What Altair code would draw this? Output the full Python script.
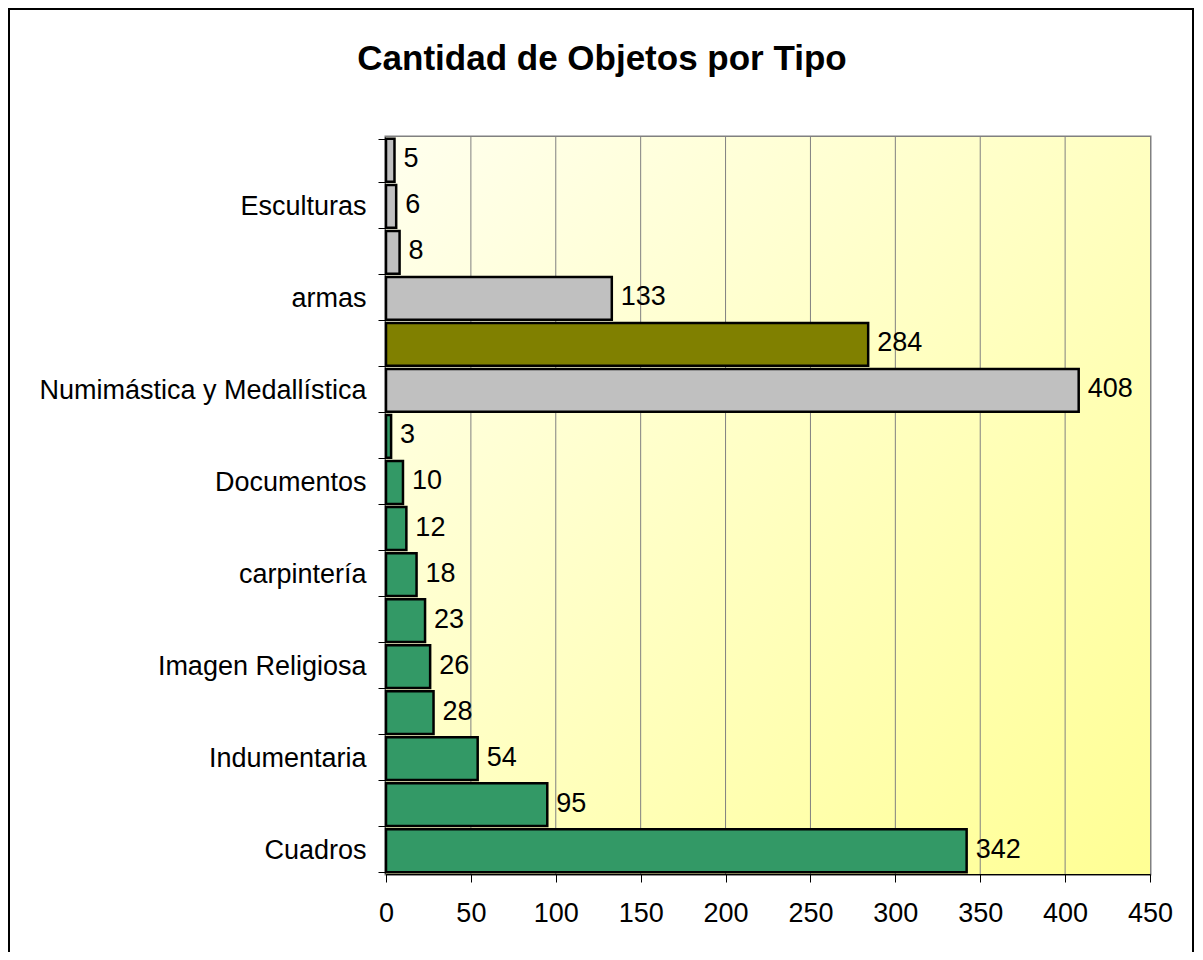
import altair as alt
import pandas as pd

# Categories, top to bottom (Excel shows only every other label)
categorias = [
    "Tipo 16", "Esculturas", "Tipo 14", "armas", "Tipo 12",
    "Numimástica y Medallística", "Tipo 10", "Documentos", "Tipo 8",
    "carpintería", "Tipo 6", "Imagen Religiosa", "Tipo 4",
    "Indumentaria", "Tipo 2", "Cuadros",
]
etiquetas_visibles = [
    "Esculturas", "armas", "Numimástica y Medallística", "Documentos",
    "carpintería", "Imagen Religiosa", "Indumentaria", "Cuadros",
]
cantidades = [5, 6, 8, 133, 284, 408, 3, 10, 12, 18, 23, 26, 28, 54, 95, 342]
grupos = ["B", "B", "B", "B", "C", "B", "A", "A", "A", "A", "A", "A", "A", "A", "A", "A"]
ticks_x = [0, 50, 100, 150, 200, 250, 300, 350, 400, 450]
titulo = "Cantidad de Objetos por Tipo"

paleta_dominio = ["A", "B", "C"]
paleta_colores = ["#339966", "#C0C0C0", "#808000"]

W, H = 764, 737
FONT = "Liberation Sans"

df = pd.DataFrame({"categoria": categorias, "cantidad": cantidades, "grupo": grupos})
grid_df = pd.DataFrame({"v": ticks_x[1:-1]})

label_list = ",".join("'" + s + "'" for s in etiquetas_visibles)
label_expr = f"indexof([{label_list}], datum.value) >= 0 ? datum.value : ''"

x_scale = alt.Scale(domain=[0, 450], nice=False, zero=True)
y_scale = alt.Scale(domain=categorias, paddingInner=0.07, paddingOuter=0.04)

fondo = alt.Chart(alt.Data(values=[{"a": 1}])).mark_rect(
    color=alt.LinearGradient(
        gradient="linear", x1=0, y1=0, x2=1, y2=1,
        stops=[alt.GradientStop(color="#FFFFEE", offset=0),
               alt.GradientStop(color="#FFFF94", offset=1)],
    )
).encode(x=alt.value(0), x2=alt.value(W), y=alt.value(0), y2=alt.value(H))

rejilla = alt.Chart(grid_df).mark_rule(color="#808080", strokeWidth=1).encode(
    x=alt.X("v:Q", scale=x_scale)
)

barras = alt.Chart(df).mark_bar(stroke="black", strokeWidth=2.5).encode(
    y=alt.Y(
        "categoria:N", sort=categorias, scale=y_scale, title=None,
        axis=alt.Axis(
            tickBand="extent", labelExpr=label_expr, labelFont=FONT,
            labelFontSize=27, labelColor="black", labelPadding=12,
            tickSize=8, tickColor="black", domainColor="black",
            domainWidth=1.5, grid=False, labelLimit=500,
        ),
    ),
    x=alt.X(
        "cantidad:Q", scale=x_scale, title=None,
        axis=alt.Axis(
            values=ticks_x, labelFont=FONT, labelFontSize=27, labelColor="black",
            labelPadding=18, tickSize=8, tickColor="black", domainColor="black",
            domainWidth=1.5, grid=False, labelFlush=False,
        ),
    ),
    color=alt.Color("grupo:N", scale=alt.Scale(domain=paleta_dominio, range=paleta_colores), legend=None),
)

textos = alt.Chart(df).mark_text(
    align="left", baseline="middle", dx=9, dy=-1, font=FONT, fontSize=27, color="black"
).encode(
    y=alt.Y("categoria:N", sort=categorias, scale=y_scale),
    x=alt.X("cantidad:Q", scale=x_scale),
    text="cantidad:Q",
)

titulo_mark = alt.Chart(alt.Data(values=[{"t": titulo}])).mark_text(
    align="center", baseline="middle", font=FONT, fontSize=35, fontWeight="bold", color="black"
).encode(x=alt.value(216), y=alt.value(-78), text="t:N")

marco = alt.Chart(alt.Data(values=[{"a": 1}])).mark_rect(
    fill=None, fillOpacity=0, stroke="black", strokeWidth=2
).encode(x=alt.value(-377), x2=alt.value(807), y=alt.value(-128), y2=alt.value(830))

chart = alt.layer(fondo, rejilla, barras, textos, titulo_mark, marco).properties(
    width=W, height=H,
    padding={"left": 378, "top": 129, "right": 45, "bottom": 78},
    autosize=alt.AutoSizeParams(type="none"),
).configure_view(stroke="#808080", strokeWidth=3)

chart.save("out.html", embed_options={"renderer": "svg", "actions": False})
